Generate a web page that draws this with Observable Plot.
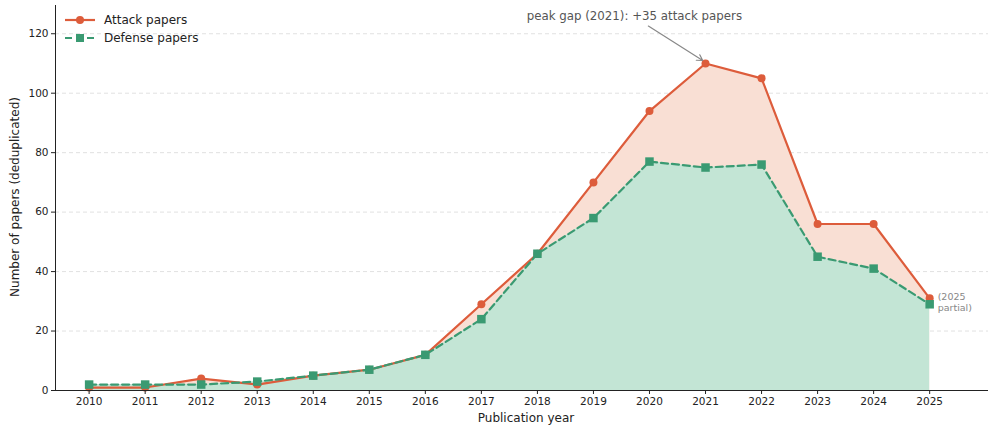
<!DOCTYPE html>
<html>
<head>
<meta charset="utf-8">
<script src="https://cdn.jsdelivr.net/npm/d3@7"></script>
<script src="https://cdn.jsdelivr.net/npm/@observablehq/plot@0.6"></script>
<style>
  html, body { margin: 0; padding: 0; background: #fff; }
  #wrap { position: relative; width: 989px; height: 425px; font-family: "DejaVu Sans", sans-serif; }
  #legend { position: absolute; left: 64px; top: 11px; font-size: 12px; color: #222; }
  .item { display: flex; align-items: center; height: 18px; }
  .item svg { margin-right: 8px; }
</style>
</head>
<body>
<div id="wrap"><div id="legend"></div></div>
<script>
const years = [2010, 2011, 2012, 2013, 2014, 2015, 2016, 2017, 2018, 2019, 2020, 2021, 2022, 2023, 2024, 2025];
const attack = [1, 1, 4, 2, 5, 7, 12, 29, 46, 70, 94, 110, 105, 56, 56, 31];
const defense = [2, 2, 2, 3, 5, 7, 12, 24, 46, 58, 77, 75, 76, 45, 41, 29];
const yTicks = [0, 20, 40, 60, 80, 100, 120];
const seriesNames = ["Attack papers", "Defense papers"];
const peakLabel = "peak gap (2021): +35 attack papers";
const peakText = [{x: 2019.73, y: 126}];
const peakArrow = [{x1: 2019.98, y1: 122.6, x2: 2020.95, y2: 111}];
const partialLabel = "(2025\npartial)";
const partialPos = [{x: 2025, y: 31}];

const cA = "#dd5c3b", cD = "#3a9a72";
const fillA = "#f9dfd4", fillD = "#c3e5d5";

const rows = years.map((x, i) => ({x, a: attack[i], d: defense[i]}));
const xDomain = [2009.4, 2026.05];

const chart = Plot.plot({
  width: 989, height: 425,
  marginLeft: 55, marginRight: 1, marginTop: 5, marginBottom: 35,
  style: {fontFamily: "DejaVu Sans, sans-serif", fontSize: "10.5px", color: "#222", background: "#fff"},
  x: {domain: xDomain, axis: null},
  y: {domain: [0, 129.5], axis: null},
  marks: [
    Plot.ruleY(yTicks.slice(1), {stroke: "#d9d9d9", strokeDasharray: "4,3", strokeWidth: 0.8}),
    Plot.areaY(rows, {x: "x", y: "a", fill: fillA}),
    Plot.areaY(rows, {x: "x", y: "d", fill: fillD}),
    Plot.line(rows, {x: "x", y: "a", stroke: cA, strokeWidth: 2.2}),
    Plot.dot(rows, {x: "x", y: "a", r: 4, fill: cA, stroke: "none"}),
    Plot.line(rows, {x: "x", y: "d", stroke: cD, strokeWidth: 2.2, strokeDasharray: "7,4"}),
    Plot.dot(rows, {x: "x", y: "d", symbol: "square", r: 4.8, fill: cD, stroke: "none"}),
    Plot.ruleY([0], {stroke: "#222", strokeWidth: 1}),
    Plot.ruleX([xDomain[0]], {stroke: "#222", strokeWidth: 1}),
    Plot.axisX({ticks: years, tickFormat: d => String(d), tickSize: 4, tickPadding: 3, fontSize: 10.5, label: null}),
    Plot.axisY({ticks: yTicks, tickSize: 4, tickPadding: 3, fontSize: 10.5, label: null}),
    Plot.text(peakText, {x: "x", y: "y", text: () => peakLabel, fontSize: 11.8, fill: "#555"}),
    Plot.arrow(peakArrow, {x1: "x1", y1: "y1", x2: "x2", y2: "y2", stroke: "#888", strokeWidth: 1.2, headLength: 8, bend: false}),
    Plot.text(partialPos, {x: "x", y: "y", text: () => partialLabel, textAnchor: "start", dx: 8, dy: 4, fontSize: 9.5, fill: "#888", lineHeight: 1.15})
  ]
});

const svg = d3.select(chart);
svg.append("text").attr("x", 526).attr("y", 422).attr("text-anchor", "middle")
  .attr("font-size", 12).attr("fill", "#222").text("Publication year");
svg.append("text").attr("transform", "translate(19,197) rotate(-90)").attr("text-anchor", "middle")
  .attr("font-size", 12).attr("fill", "#222").text("Number of papers (deduplicated)");

document.getElementById("wrap").prepend(chart);

const legend = d3.select("#legend");
[[seriesNames[0], cA, "circle", null], [seriesNames[1], cD, "square", "7,4"]].forEach(([name, c, sym, dash]) => {
  const it = legend.append("div").attr("class", "item");
  const s = it.append("svg").attr("width", 32).attr("height", 12);
  s.append("line").attr("x1", 1).attr("x2", 31).attr("y1", 6).attr("y2", 6)
    .attr("stroke", c).attr("stroke-width", 2.2).attr("stroke-dasharray", dash);
  if (sym === "circle") s.append("circle").attr("cx", 16).attr("cy", 6).attr("r", 4).attr("fill", c);
  else s.append("rect").attr("x", 12).attr("y", 2).attr("width", 8).attr("height", 8).attr("fill", c);
  it.append("span").text(name);
});
</script>
</body>
</html>
